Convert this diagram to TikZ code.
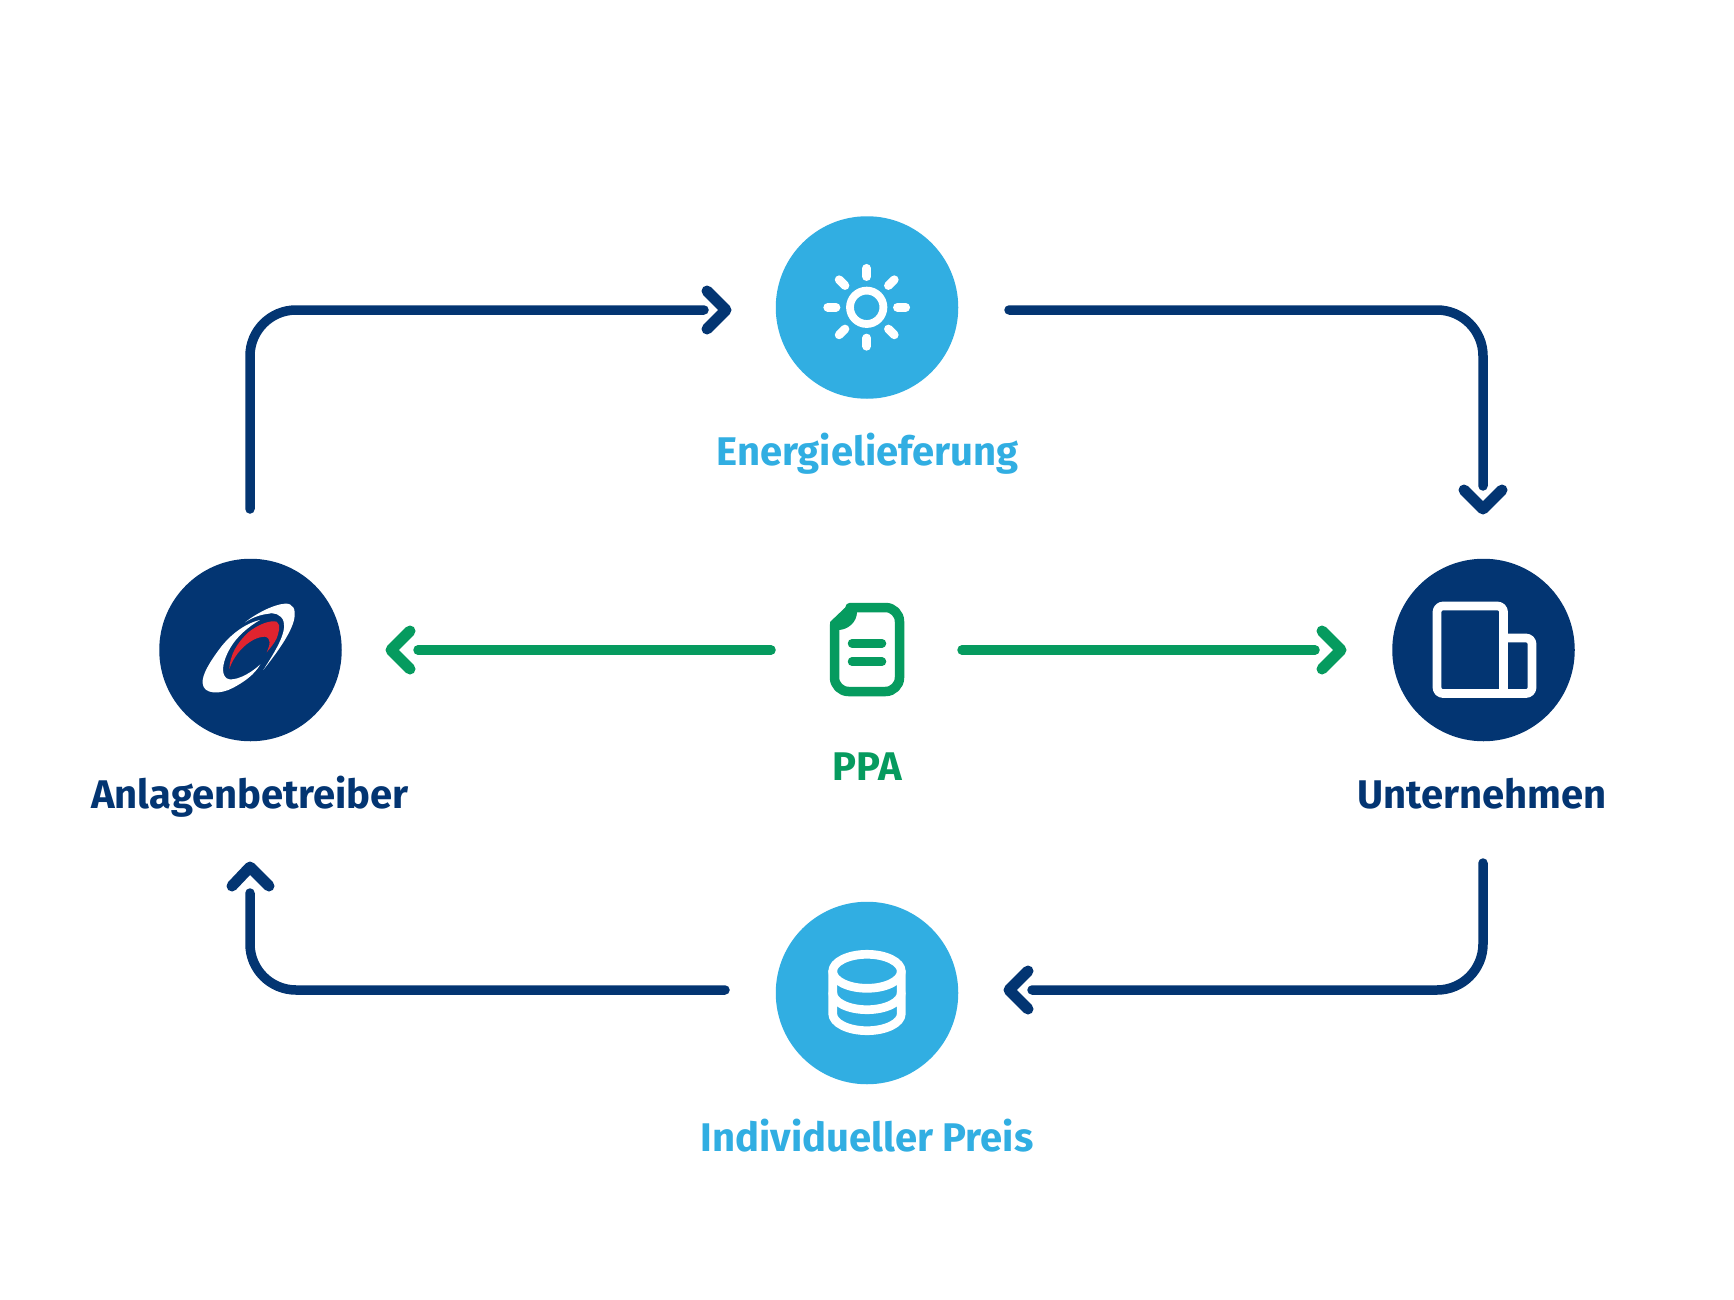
\documentclass[tikz,border=0pt]{standalone}
\usepackage{fontspec}
\setmainfont{Fira Sans}
\definecolor{navy}{HTML}{033572}
\definecolor{sky}{HTML}{31AEE2}
\definecolor{grn}{HTML}{069B5F}
\definecolor{lred}{HTML}{E0242F}
\tikzset{
  flow/.style={draw=navy,line width=9.5pt,line cap=round,line join=round,rounded corners=46pt},
  ppa/.style={draw=grn,line width=9.5pt,line cap=round,line join=round},
  chev/.style={draw=navy,line width=11pt,line cap=round,line join=round},
  gchev/.style={draw=grn,line width=11pt,line cap=round,line join=round},
  disc/.style={circle,minimum size=182.5pt,inner sep=0pt,outer sep=0pt},
  lab/.style={font=\bfseries\fontsize{40}{40}\selectfont,inner sep=0pt,anchor=base},
  icon/.style={draw=white,line width=8.7pt,line cap=round,line join=round}
}
\begin{document}
\begin{tikzpicture}[x=1pt,y=-1pt]
\useasboundingbox (0,0) rectangle (1734,1300);
\fill[white] (0,0) rectangle (1734,1300);
% discs
\node[disc,fill=navy] (anl) at (250.5,650) {};
\node[disc,fill=navy] (unt) at (1483.5,650) {};
\node[disc,fill=sky] (sun) at (867,307.5) {};
\node[disc,fill=sky] (db) at (867,993) {};
% labels
\node[lab,text=navy] (lanl) at (250,808) {Anlagenbetreiber};
\node[lab,text=navy] (lunt) at (1482,808) {Unternehmen};
\node[lab,text=sky] (lsun) at (867.5,465) {Energielieferung};
\node[lab,text=sky] (ldb) at (867,1151) {Individueller Preis};
\node[lab,text=grn] (lppa) at (867,780.5) {PPA};
% connector end points
\coordinate (a1) at (250,509);
\coordinate (a2) at (250,310);
\coordinate (a3) at (704,310);
\coordinate (b1) at (1009,310);
\coordinate (b2) at (1483,310);
\coordinate (b3) at (1483,486);
\coordinate (c1) at (1483,863);
\coordinate (c2) at (1483,990);
\coordinate (c3) at (1032,990);
\coordinate (d1) at (725,990);
\coordinate (d2) at (250,990);
\coordinate (d3) at (250,893);
\coordinate (e1) at (771,650);
\coordinate (e2) at (418,650);
\coordinate (f1) at (962,650);
\coordinate (f2) at (1315,650);
% connectors
\draw[flow] (a1) -- (a2) -- (a3);
\draw[flow] (b1) -- (b2) -- (b3);
\draw[flow] (c1) -- (c2) -- (c3);
\draw[flow] (d1) -- (d2) -- (d3);
\draw[ppa] (e1) -- (e2);
\draw[ppa] (f1) -- (f2);
% chevrons
\draw[chev] (707,291) -- (726,310) -- (707,329);
\draw[chev] (1464,490) -- (1483,509) -- (1502,490);
\draw[chev] (1028,971) -- (1009,990) -- (1028,1009);
\draw[chev] (232,886) -- (250,867) -- (269,886);
\draw[gchev] (410,631) -- (391,650) -- (410,669);
\draw[gchev] (1322,631) -- (1341,650) -- (1322,669);
% sun icon
\draw[icon,line width=7.8pt] (866.7,307.3) circle (16.7pt);
\foreach \a in {0,45,...,315}{
  \draw[icon] (866.7,307.3) ++(\a:30.7pt) -- ++(\a:8.3pt);
}
% database icon
\draw[icon] (867,971.3) ellipse (34.3pt and 17pt);
\draw[icon] (832.7,971.3) -- (832.7,1013.7) arc[start angle=180,end angle=360,x radius=34.3pt,y radius=17pt] -- (901.3,971.3);
\draw[icon] (832.7,992.7) arc[start angle=180,end angle=360,x radius=34.3pt,y radius=17pt];
% company icon
\draw[icon,line cap=butt,rounded corners=6pt] (1503.5,693.5) -- (1503.5,606) -- (1437,606) -- (1437,693.5) -- (1532,693.5) -- (1532,638) -- (1503.5,638);
% document icon
\draw[ppa,rounded corners=14pt] (834.5,625) -- (834.5,691.5) -- (899.5,691.5) -- (899.5,607.5) -- (850,607.5);
\fill[grn] (830,622) -- (850,603) -- (857,603) -- (857,612) .. controls (857,622) and (848,630) .. (838,630) -- (830,630) -- cycle;
\draw[ppa,line width=8.5pt] (852,643.3) -- (882,643.3);
\draw[ppa,line width=8.5pt] (852,661.7) -- (882,661.7);
% logo
\begin{scope}[shift={(195,595)},x=0.3333pt,y=-0.3333pt]
\fill[white] (150,82) .. controls (180,58) and (235,28) .. (270,26) .. controls (295,24) and (303,45) .. (298,70) .. controls (290,115) and (240,180) .. (205,225) .. controls (240,170) and (275,115) .. (266,80) .. controls (260,58) and (235,50) .. (215,57) .. controls (190,60) and (165,72) .. (150,82) -- cycle;
\fill[white] (195,75) .. controls (150,85) and (105,120) .. (75,160) .. controls (45,200) and (20,240) .. (23,265) .. controls (25,298) and (75,300) .. (115,278) .. controls (145,262) and (178,240) .. (196,208) .. controls (165,238) and (115,262) .. (95,250) .. controls (75,235) and (85,195) .. (105,160) .. controls (125,125) and (160,95) .. (195,75) -- cycle;
\fill[lred] (103,222) .. controls (105,180) and (125,145) .. (160,112) .. controls (190,88) and (225,75) .. (245,80) .. controls (260,90) and (250,115) .. (245,130) .. controls (238,145) and (225,160) .. (215,172) .. controls (225,150) and (230,130) .. (210,125) .. controls (170,125) and (120,170) .. (103,222) -- cycle;
\end{scope}
\end{tikzpicture}
\end{document}
